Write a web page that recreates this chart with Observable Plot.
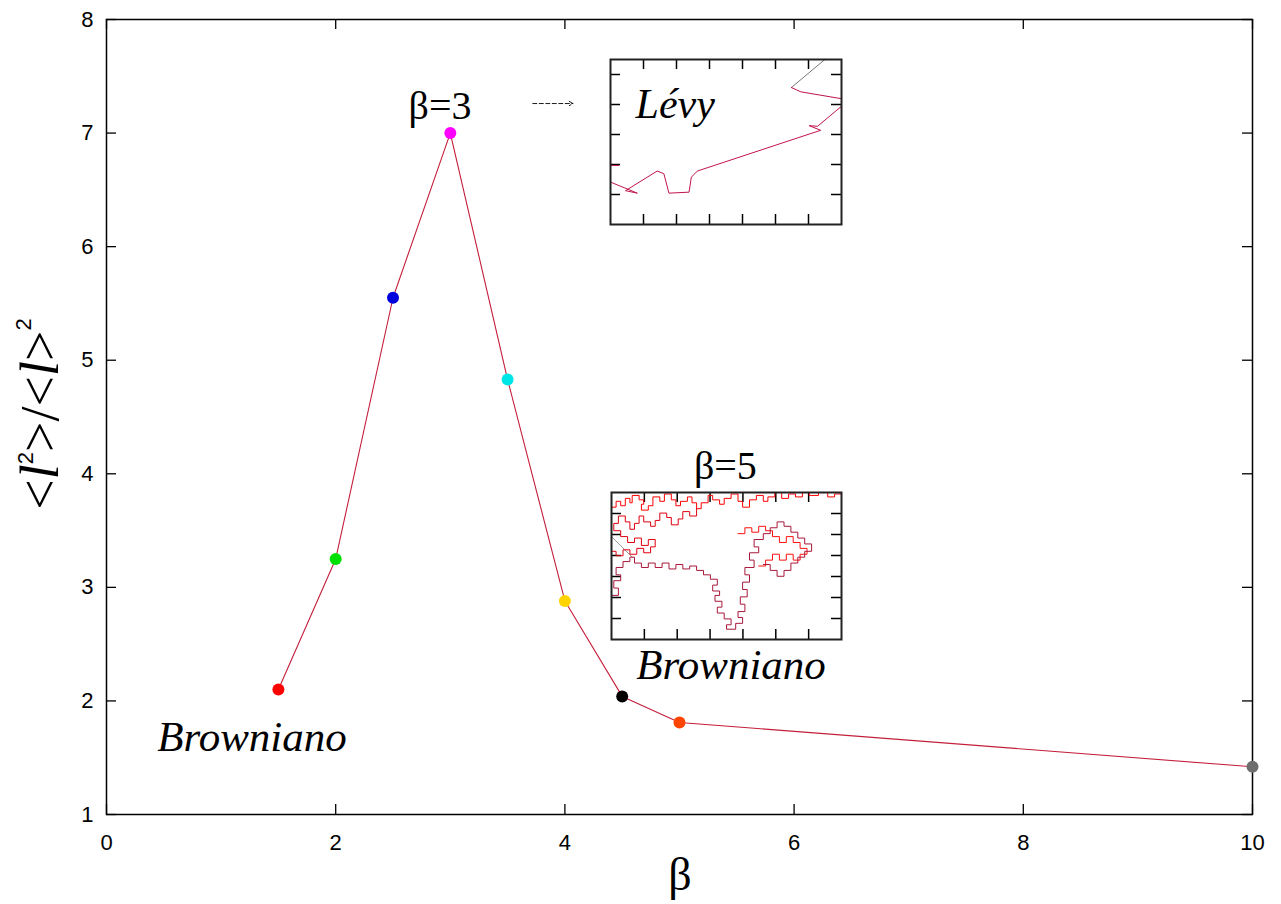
<!DOCTYPE html>
<html><head><meta charset="utf-8">
<script src="https://cdn.jsdelivr.net/npm/d3@7"></script>
<script src="https://cdn.jsdelivr.net/npm/@observablehq/plot@0.6"></script>
<style>
html,body{margin:0;padding:0;background:#fff;}
#wrap{position:relative;width:1281px;height:904px;}
#wrap svg{position:absolute;overflow:visible;}
</style></head>
<body><div id="wrap"></div>
<script>
// ---- main data ----
const betas = [1.5, 2, 2.5, 3, 3.5, 4, 4.5, 5, 10];
const ratio = [2.10, 3.25, 5.55, 7.00, 4.83, 2.88, 2.04, 1.81, 1.42];
const dotColors = ["#ff0000", "#00e000", "#0000dd", "#ff00ff", "#00e6e6", "#ffd400", "#000000", "#ff4500", "#6e6e6e"];
const xTicks = [0, 2, 4, 6, 8, 10];
const yTicks = [1, 2, 3, 4, 5, 6, 7, 8];
const annText = ["β=3", "Browniano", "β=5", "Browniano"];
const annX = [2.91, 1.27, 5.40, 5.45];
const annY = [7.24, 1.68, 4.07, 2.31];
const annItalic = [false, true, false, true];

// ---- inset traces (inset units 0..100) ----
const levyRed = [[0,25.7],[11.6,19.0],[6.5,20.5],[20.2,32.4],[23.1,30.8],[25.3,19.0],[34.0,19.6],[35.0,28.7],[37.6,32.4],[91.0,57.1],[86.0,59.9],[89.6,59.5],[99.7,71.3]];
const levyRed2 = [[78.3,83.0],[82.4,80.4],[99.7,76.3]];
const levyRed3 = [[0,35.8],[3.6,35.8]];
const levyGray = [[92.8,100],[78.3,83.0]];
const brownTop = [[0,90],[2,90],[2,94],[4,94],[4,91],[6,91],[6,96],[8,96],[8,93],[9,93],[9,98],[12,98],[12,95],[14,95],[14,92],[13,92],[13,88],[16,88],[16,91],[18,91],[18,97],[21,97],[21,94],[23,94],[23,99],[26,99],[26,95],[28,95],[28,91],[30,91],[30,94],[33,94],[33,97],[35,97],[35,93],[37,93],[37,89],[39,89],[39,93],[42,93],[42,98],[44,98],[44,95],[47,95],[47,92],[49,92],[49,96],[52,96],[52,99],[55,99],[55,94],[57,94],[57,90],[60,90],[60,95],[63,95],[63,98],[66,98],[66,94],[68,94],[68,97],[71,97],[71,100],[74,100],[74,96],[77,96],[77,99],[80,99],[80,97],[83,97],[83,100],[86,100],[86,98],[90,98],[90,100],[94,100],[94,97],[97,97],[97,99],[100,99]];
const brownMid = [[37,89],[37,84],[34,84],[34,87],[31,87],[31,82],[29,82],[29,78],[26,78],[26,83],[24,83],[24,86],[21,86],[21,81],[19,81],[19,77],[17,77],[17,80],[14,80],[14,84],[12,84],[12,79],[10,79],[10,75],[8,75],[8,80],[6,80],[6,84],[3,84],[3,79],[1,79],[1,74],[4,74],[4,70],[7,70],[7,66],[10,66],[10,69],[13,69],[13,64],[16,64],[16,68],[19,68],[19,63],[17,63],[17,59],[14,59],[14,62],[11,62],[11,58],[8,58],[8,61],[5,61],[5,57],[2,57],[2,60],[0,60]];
const brownDark = [[0,30],[3,30],[3,35],[1,35],[1,40],[4,40],[4,44],[2,44],[2,49],[5,49],[5,53],[8,53],[8,56],[10,56],[10,52],[13,52],[13,49],[16,49],[16,52],[19,52],[19,49],[22,49],[22,52],[25,52],[25,48],[28,48],[28,51],[31,51],[31,48],[34,48],[34,50],[37,50],[37,47],[40,47],[40,44],[43,44],[43,41],[46,41],[46,37],[44,37],[44,33],[47,33],[47,30],[45,30],[45,26],[48,26],[48,22],[46,22],[46,18],[49,18],[49,14],[52,14],[52,10],[50,10],[50,7],[54,7],[54,11],[57,11],[57,15],[55,15],[55,19],[58,19],[58,24],[56,24],[56,29],[59,29],[59,34],[57,34],[57,39],[60,39],[60,44],[58,44],[58,49],[62,49],[62,54],[60,54],[60,59],[64,59],[64,63],[62,63],[62,68],[66,68],[66,72],[69,72],[69,76],[72,76],[72,80],[75,80],[75,77],[78,77],[78,73],[81,73],[81,69],[84,69],[84,65],[87,65],[87,60],[84,60],[84,56],[81,56],[81,52],[78,52],[78,47],[75,47],[75,43],[72,43],[72,47],[69,47],[69,51],[66,51]];
const brownRight = [[55,72],[58,72],[58,76],[61,76],[61,73],[64,73],[64,77],[67,77],[67,74],[70,74],[70,70],[73,70],[73,66],[76,66],[76,70],[79,70],[79,66],[82,66],[82,62],[85,62],[85,58],[82,58],[82,54],[79,54],[79,58],[76,58],[76,54],[73,54],[73,58],[70,58],[70,54],[67,54],[67,50],[64,50]];
const brownGray = [[0,70],[9,56]];
const insetTicks = [1, 2, 3, 4, 5, 6];

const SERIF = "Liberation Serif, Times New Roman, serif";
const SANS = "Liberation Sans, Arial, sans-serif";

const W = 1281, H = 904;
const mL = 106, mR = 29, mT = 19, mB = 90;
const innerW = W - mL - mR, innerH = H - mT - mB;
const tick = 10;

const data = betas.map((b, i) => ({beta: b, r: ratio[i], c: dotColors[i]}));
const ann = annText.map((t, i) => ({t, x: annX[i], y: annY[i], it: annItalic[i]}));

const main = Plot.plot({
  width: W, height: H,
  marginLeft: mL, marginRight: mR, marginTop: mT, marginBottom: mB,
  style: {fontFamily: SANS, background: "transparent", overflow: "visible"},
  x: {domain: [0, 10], axis: null},
  y: {domain: [1, 8], axis: null},
  marks: [
    Plot.axisX(xTicks, {anchor: "bottom", tickSize: 0, tickPadding: 20, fontSize: 22, label: null, fill: "#000", tickFormat: d3.format("d")}),
    Plot.axisY(yTicks, {anchor: "left", tickSize: 0, tickPadding: 13, fontSize: 22, label: null, fill: "#000", tickFormat: d3.format("d")}),
    Plot.ruleX(xTicks, {insetTop: innerH - tick, stroke: "#000", strokeWidth: 1.3}),
    Plot.ruleX(xTicks, {insetBottom: innerH - tick, stroke: "#000", strokeWidth: 1.3}),
    Plot.ruleY(yTicks, {insetRight: innerW - tick, stroke: "#000", strokeWidth: 1.3}),
    Plot.ruleY(yTicks, {insetLeft: innerW - tick, stroke: "#000", strokeWidth: 1.3}),
    Plot.frame({stroke: "#000", strokeWidth: 1.5}),
    Plot.line(data, {x: "beta", y: "r", stroke: "#c41e3a", strokeWidth: 1.1}),
    Plot.dot(data, {x: "beta", y: "r", r: 6, fill: "c", stroke: "none"}),
    Plot.text(ann.filter(d => !d.it), {x: "x", y: "y", text: "t", fontFamily: SERIF, fontSize: 40, fill: "#000", lineAnchor: "middle"}),
    Plot.text(ann.filter(d => d.it), {x: "x", y: "y", text: "t", fontFamily: SERIF, fontStyle: "italic", fontSize: 43, fill: "#000", lineAnchor: "middle"}),
    Plot.arrow([{x1: 3.72, x2: 4.07, y: 7.26}], {x1: "x1", x2: "x2", y1: "y", y2: "y", stroke: "#000", strokeWidth: 0.9, strokeDasharray: "4,2.5", headLength: 7, bend: 0})
  ]
});
main.style.left = "0px"; main.style.top = "0px";
document.getElementById("wrap").appendChild(main);

// axis titles
const s = d3.select(main);
const yl = s.append("text").attr("transform", "translate(58,414) rotate(-90)")
  .attr("text-anchor", "middle").style("font-family", SERIF).style("font-size", "54px").attr("fill", "#000");
yl.append("tspan").text("<");
yl.append("tspan").text("l").style("font-style", "italic");
yl.append("tspan").text("2").style("font-family", SANS).style("font-size", "22px").attr("dy", -25);
yl.append("tspan").text(">/<").attr("dy", 25);
yl.append("tspan").text("l").style("font-style", "italic");
yl.append("tspan").text(">");
yl.append("tspan").text("2").style("font-family", SANS).style("font-size", "22px").attr("dy", -27);
s.append("text").attr("x", 680).attr("y", 890).attr("text-anchor", "middle")
  .style("font-family", SERIF).style("font-size", "46px").attr("fill", "#000").text("β");

function inset(left, top, w, h, yTickVals, paths, label) {
  const xt = insetTicks.map(t => t * 100 / 7);
  const marks = [
    Plot.ruleX(xt, {insetTop: h - tick, stroke: "#000", strokeWidth: 1.5}),
    Plot.ruleX(xt, {insetBottom: h - tick, stroke: "#000", strokeWidth: 1.5}),
    Plot.ruleY(yTickVals, {insetRight: w - tick, stroke: "#000", strokeWidth: 1.5}),
    Plot.ruleY(yTickVals, {insetLeft: w - tick, stroke: "#000", strokeWidth: 1.5}),
  ];
  for (const [pts, col] of paths) {
    marks.push(Plot.line(pts, {x: d => d[0], y: d => d[1], stroke: col, strokeWidth: 1, curve: "linear"}));
  }
  if (label) marks.push(Plot.text([label], {x: d => d.x, y: d => d.y, text: d => d.t, fontFamily: SERIF, fontStyle: "italic", fontSize: 42, fill: "#000", lineAnchor: "middle"}));
  marks.push(Plot.frame({stroke: "#222", strokeWidth: 2}));
  const p = Plot.plot({
    width: w, height: h, margin: 0,
    style: {background: "#fff", overflow: "visible"},
    x: {domain: [0, 100], axis: null},
    y: {domain: [0, 100], axis: null},
    marks
  });
  p.style.left = left + "px"; p.style.top = top + "px";
  document.getElementById("wrap").appendChild(p);
}

inset(610, 59, 231, 165, [1,2,3,4,5].map(t => t * 100 / 5.5),
  [[levyGray, "#777"], [levyRed, "#c0144a"], [levyRed2, "#c0144a"], [levyRed3, "#c0144a"]], {x: 28, y: 73, t: "Lévy"});
inset(611, 492, 230, 147, insetTicks.map(t => t * 100 / 7),
  [[brownGray, "#999"], [brownTop, "#ff0000"], [brownMid, "#e00010"], [brownRight, "#ff1010"], [brownDark, "#a8183a"]], null);
</script></body></html>
